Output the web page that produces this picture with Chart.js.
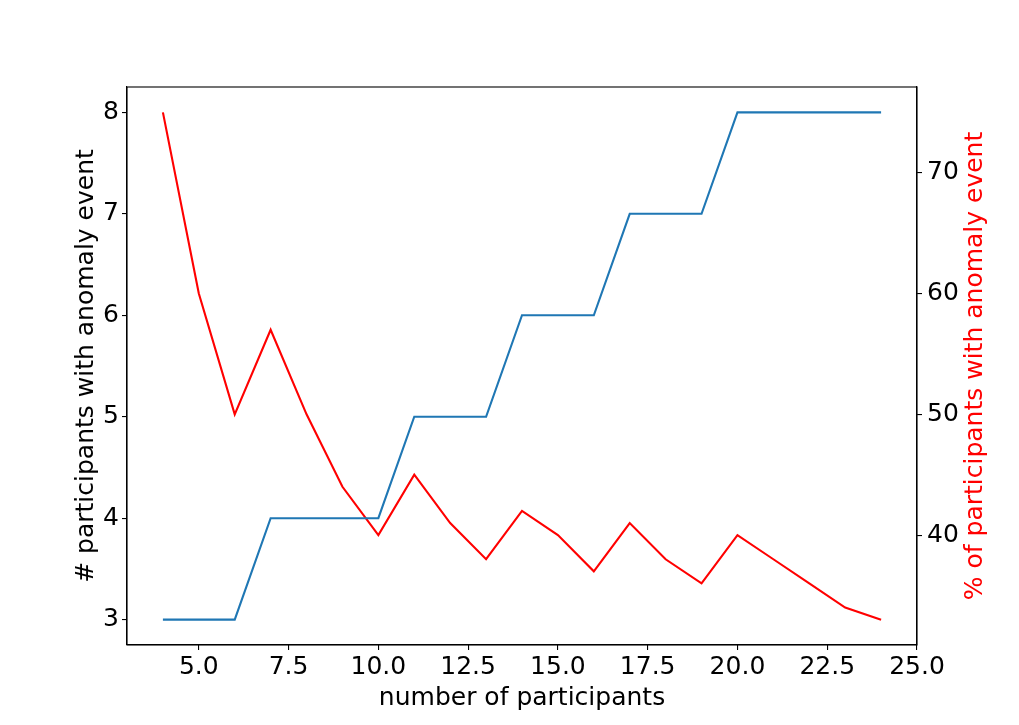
<!DOCTYPE html>
<html>
<head>
<meta charset="utf-8">
<script src="https://cdn.jsdelivr.net/npm/chart.js@4"></script>
<style>
  html, body { margin: 0; padding: 0; background: #fff; }
  #wrap { width: 1019px; height: 725px; }
</style>
</head>
<body>
<div id="wrap"><canvas id="c" width="1019" height="725"></canvas></div>
<script>
const participants = [4, 5, 6, 7, 8, 9, 10, 11, 12, 13, 14, 15, 16, 17, 18, 19, 20, 21, 22, 23, 24];
const anomalyCount = [3, 3, 3, 4, 4, 4, 4, 5, 5, 5, 6, 6, 6, 7, 7, 7, 8, 8, 8, 8, 8];
const anomalyPct = [75, 60, 50, 57, 50, 44, 40, 45, 41, 38, 42, 40, 37, 41, 38, 36, 40, 38, 36, 34, 33];
const xTicks = [5, 7.5, 10, 12.5, 15, 17.5, 20, 22.5, 25];
const leftTicks = [3, 4, 5, 6, 7, 8];
const rightTicks = [40, 50, 60, 70];
const xTitle = 'number of participants';
const leftTitle = '# participants with anomaly event';
const rightTitle = '% of participants with anomaly event';

const FONT = 'DejaVu Sans';
const FS = 25;

const framePlugin = {
  id: 'frame',
  afterDatasetsDraw(chart) {
    const a = chart.chartArea, ctx = chart.ctx;
    ctx.save();
    ctx.strokeStyle = '#000';
    ctx.lineWidth = 1.1;
    ctx.strokeRect(a.left, a.top, a.right - a.left, a.bottom - a.top);
    ctx.restore();
  }
};

// right axis title, read bottom-to-top like the left one
const rightTitlePlugin = {
  id: 'rightTitle',
  afterDraw(chart) {
    const a = chart.chartArea, ctx = chart.ctx;
    ctx.save();
    ctx.translate(975, (a.top + a.bottom) / 2);
    ctx.rotate(-Math.PI / 2);
    ctx.fillStyle = '#ff0000';
    ctx.font = FS + 'px "' + FONT + '"';
    ctx.textAlign = 'center';
    ctx.textBaseline = 'middle';
    ctx.fillText(rightTitle, 0, 0);
    ctx.restore();
  }
};

function fixTicks(arr) {
  return function (scale) { scale.ticks = arr.map(v => ({ value: v })); };
}

const gridOpts = { drawOnChartArea: false, drawTicks: true, tickLength: 5, color: '#000', lineWidth: 1.1 };
const borderOpts = { display: true, color: '#000', width: 1.1 };

new Chart(document.getElementById('c'), {
  type: 'line',
  data: {
    datasets: [
      {
        label: 'count',
        data: participants.map((x, i) => ({ x: x, y: anomalyCount[i] })),
        borderColor: '#1f77b4',
        borderWidth: 2.1,
        pointRadius: 0,
        tension: 0,
        fill: false,
        yAxisID: 'y'
      },
      {
        label: 'pct',
        data: participants.map((x, i) => ({ x: x, y: anomalyPct[i] })),
        borderColor: '#ff0000',
        borderWidth: 2.1,
        pointRadius: 0,
        tension: 0,
        fill: false,
        yAxisID: 'y2'
      }
    ]
  },
  options: {
    responsive: false,
    animation: false,
    devicePixelRatio: 1,
    layout: { padding: { top: 87, left: 0, right: 0, bottom: 0 } },
    plugins: { legend: { display: false }, tooltip: { enabled: false } },
    scales: {
      x: {
        type: 'linear',
        position: 'bottom',
        min: 3, max: 25,
        afterBuildTicks: fixTicks(xTicks),
        afterFit(s) { s.height = 80; },
        grid: gridOpts,
        border: borderOpts,
        ticks: { color: '#000', font: { family: FONT, size: FS }, padding: 2, maxRotation: 0, autoSkip: false, callback: v => Number(v).toFixed(1) },
        title: { display: true, text: xTitle, color: '#000', font: { family: FONT, size: FS }, padding: { top: 0, bottom: 12 } }
      },
      y: {
        type: 'linear',
        position: 'left',
        min: 2.75, max: 8.25,
        afterBuildTicks: fixTicks(leftTicks),
        afterFit(s) { s.width = 127; },
        grid: gridOpts,
        border: borderOpts,
        ticks: { color: '#000', font: { family: FONT, size: FS }, padding: 3, autoSkip: false, callback: v => String(v) },
        title: { display: true, text: leftTitle, color: '#000', font: { family: FONT, size: FS }, padding: { top: 71, bottom: 0 } }
      },
      y2: {
        type: 'linear',
        position: 'right',
        min: 30.9, max: 77.1,
        afterBuildTicks: fixTicks(rightTicks),
        afterFit(s) { s.width = 102; },
        grid: gridOpts,
        border: borderOpts,
        ticks: { color: '#000', font: { family: FONT, size: FS }, padding: 5, autoSkip: false, callback: v => String(v) },
        title: { display: false }
      }
    }
  },
  plugins: [framePlugin, rightTitlePlugin]
});
</script>
</body>
</html>
